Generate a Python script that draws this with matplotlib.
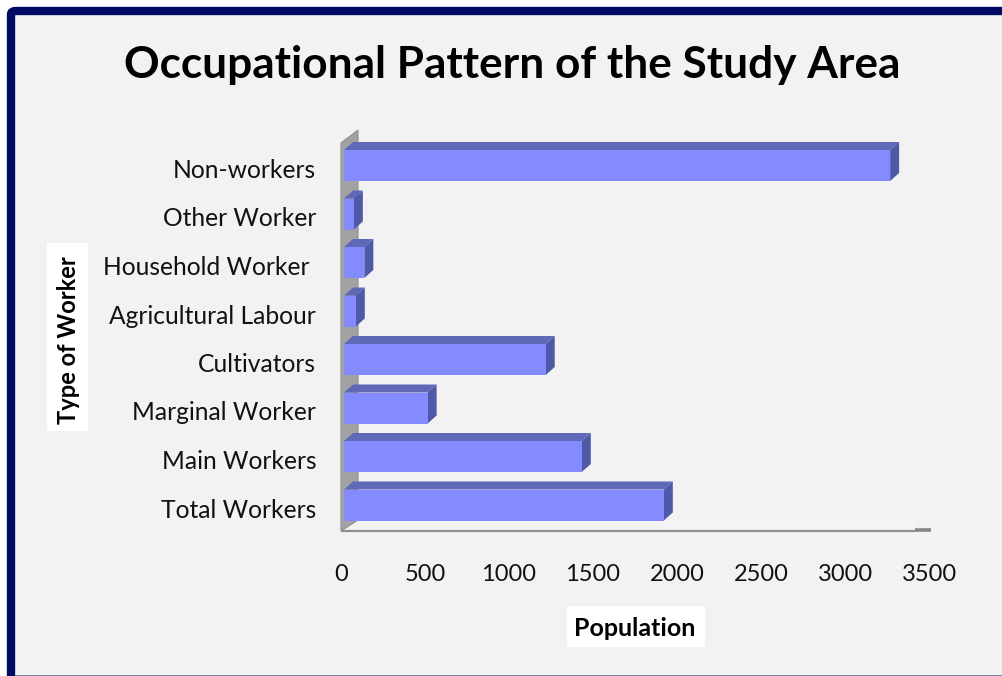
import matplotlib
matplotlib.use("Agg")
import matplotlib.pyplot as plt
from matplotlib.patches import FancyBboxPatch, Polygon, Rectangle
from matplotlib.transforms import ScaledTranslation

W, H = 1003, 676

categories = ["Total Workers", "Main Workers", "Marginal Worker", "Cultivators",
              "Agricultural Labour", "Household Worker ", "Other Worker", "Non-workers"]
population = [1950, 1450, 510, 1230, 72, 124, 60, 3330]
x_ticks = [0, 500, 1000, 1500, 2000, 2500, 3000, 3500]

FRONT = "#838bff"
TOP = "#6068b8"
SIDE = "#5058a8"
NAVY = "#000a64"
PANEL = "#f2f2f2"

plt.rcParams["font.family"] = ["Lato", "DejaVu Sans"]


def fig_rect(left, top, right, bottom):
    """Pixel box (from top left) to figure fractions."""
    return [left / W, 1 - bottom / H, (right - left) / W, (bottom - top) / H]


fig = plt.figure(figsize=(W / 100, H / 100), dpi=100, facecolor="white")

# navy frame and grey panel
fig.patches.append(FancyBboxPatch((11 / W, -0.01), 1.1, 1 - 11 / H + 0.01,
                                  boxstyle="round,pad=0,rounding_size=0.005",
                                  transform=fig.transFigure, fc=PANEL, ec=NAVY, lw=6, zorder=-2))
fig.patches.append(Rectangle((15 / W, 0), 1, 1.5 / H, transform=fig.transFigure,
                             fc="#7a80b0", ec="none", zorder=-1))

# front plane of the 3-D box, 574 px wide for the whole 0-3500 range
ax = fig.add_axes(fig_rect(344, 130, 918, 531))
ax.set_xlim(0, 3500)
px_x = 3500 / 574
px_y = 48.5
bar_h = 31 / px_y
ax.set_ylim(-(531 - 505) / px_y, (505 - 130) / px_y)
ax.patch.set_visible(False)
for s in ax.spines.values():
    s.set_visible(False)

depth_x = 9 * px_x
depth_y = 8 / px_y

# left wall and floor
wall_x0 = -3 * px_x
wall_x1 = 14 * px_x
y_floor = ax.get_ylim()[0]
y_front_top = (505 - 143) / px_y
y_back_top = (505 - 130) / px_y
y_back_floor = (505 - 520) / px_y
ax.add_patch(Polygon([(wall_x1, y_back_floor), (3500 + wall_x0, y_back_floor),
                      (3500 + wall_x0, y_floor), (wall_x0, y_floor)],
                     closed=True, fc="#f4f4f4", ec="none", clip_on=False, zorder=1))
ax.add_patch(Polygon([(wall_x0, y_floor), (wall_x1, y_back_floor), (wall_x1, y_back_top),
                      (wall_x0, y_front_top)],
                     closed=True, fc="#a2a2a2", ec="#8f8f8f", lw=0.8, clip_on=False, zorder=2))
ax.plot([wall_x0, 3500 + wall_x0], [y_floor, y_floor], color="#8f8f8f", lw=1.6,
        clip_on=False, zorder=3, solid_capstyle="butt")
ax.plot([3500 + wall_x0, 3500 + wall_x1 - 1 * px_x], [y_floor + 1.5 / px_y] * 2, color="#858585",
        lw=2.6, clip_on=False, zorder=3, solid_capstyle="butt")

# bars: front face from barh, top and side faces from the same values
ax.barh(range(len(population)), population, height=bar_h, color=FRONT, zorder=5)
for i, v in enumerate(population):
    top = i + bar_h / 2
    low = i - bar_h / 2
    ax.add_patch(Polygon([(0, top), (depth_x, top + depth_y), (v + depth_x, top + depth_y), (v, top)],
                         closed=True, fc=TOP, ec="none", zorder=4, clip_on=False))
    ax.add_patch(Polygon([(v, low), (v + depth_x, low + depth_y), (v + depth_x, top + depth_y), (v, top)],
                         closed=True, fc=SIDE, ec="none", zorder=4, clip_on=False))

ax.set_xticks([])
ax.set_yticks(range(len(categories)))
ax.set_yticklabels(categories, fontsize=17.7, color="#111111")
ax.tick_params(axis="y", length=0, pad=20)
shift = ScaledTranslation(0, -3 / 100, fig.dpi_scale_trans)
for lab in ax.get_yticklabels():
    lab.set_transform(lab.get_transform() + shift)

# value labels run on a slightly wider scale than the bars
ax2 = fig.add_axes(fig_rect(341, 130, 929, 531))
ax2.set_xlim(0, 3500)
ax2.patch.set_visible(False)
ax2.set_yticks([])
for s in ax2.spines.values():
    s.set_visible(False)
ax2.set_xticks(x_ticks)
ax2.tick_params(axis="x", length=0, pad=24, labelsize=17, labelcolor="#111111")

fig.text(512 / W, 1 - 65 / H, "Occupational Pattern of the Study Area", fontsize=31.8,
         fontweight="bold", ha="center", va="center", color="black")
fig.text(635 / W, 1 - 628 / H, "Population", fontsize=18, fontweight="bold", ha="center",
         va="center", color="black")
fig.text(69 / W, 1 - 340 / H, "Type of Worker", fontsize=17, fontweight="bold", rotation=90,
         ha="center", va="center", color="black")
fig.patches.append(Rectangle((567 / W, 1 - 647 / H), 138 / W, 41 / H, transform=fig.transFigure,
                             fc="white", ec="none", zorder=-1))
fig.patches.append(Rectangle((47 / W, 1 - 431 / H), 41 / W, 188 / H, transform=fig.transFigure,
                             fc="white", ec="none", zorder=-1))

fig.savefig("out.png", dpi=100)
